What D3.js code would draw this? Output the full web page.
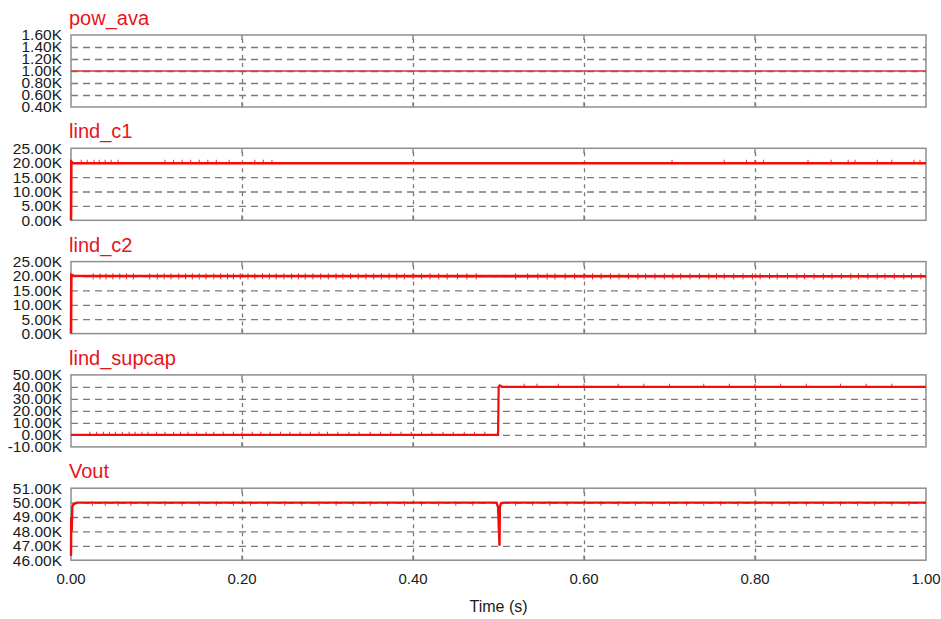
<!DOCTYPE html>
<html>
<head>
<meta charset="utf-8">
<script src="https://cdn.jsdelivr.net/npm/d3@7"></script>
<style>
  body { margin: 0; background: #fff; }
  text { font-family: "Liberation Sans", Arial, Helvetica, sans-serif; }
</style>
</head>
<body>
<div id="chart"></div>
<script>
// ---- data ----
var panelNames = ["pow_ava", "lind_c1", "lind_c2", "lind_supcap", "Vout"];

var powTicks = [400, 600, 800, 1000, 1200, 1400, 1600];
var c1Ticks = [0, 5000, 10000, 15000, 20000, 25000];
var c2Ticks = [0, 5000, 10000, 15000, 20000, 25000];
var supTicks = [-10000, 0, 10000, 20000, 30000, 40000, 50000];
var voutTicks = [46000, 47000, 48000, 49000, 50000, 51000];

var timeTicks = [0, 0.2, 0.4, 0.6, 0.8, 1.0];
var timeGrid = [0.2, 0.4, 0.6, 0.8];

// main traces [time, value]
var powData = [[0, 1000], [1, 1000]];
var c1Data = [[0, 0], [0.0004, 20300], [0.002, 19900], [0.006, 19800], [1, 19800]];
var c2Data = [[0, 0], [0.0004, 20400], [0.003, 20100], [0.02, 20000], [1, 19900]];
var supData = [[0, 0], [0.4995, 0], [0.5002, 40000], [0.5015, 41200], [0.504, 40100], [1, 40000]];
var voutData = [[0, 46300], [0.0003, 49000], [0.0008, 48000], [0.0015, 49700], [0.003, 49900],
                [0.007, 50000], [0.4975, 50000], [0.4995, 49700], [0.5012, 47000], [0.5016, 49700],
                [0.503, 49950], [0.506, 50000], [1, 50000]];

// small switching spikes seen on the traces [time, level]
var c1Spikes = [0.012, 0.019, 0.027, 0.033, 0.04, 0.047, 0.055, 0.11, 0.12, 0.13, 0.14, 0.15,
                0.16, 0.17, 0.185, 0.215, 0.225, 0.235, 0.703, 0.764, 0.79, 0.80, 0.81, 0.862,
                0.889, 0.909, 0.917, 0.943, 0.96, 0.986, 0.993].map(t => [t, 19800]);
var c2Spikes = [0.026, 0.034, 0.041, 0.049, 0.057, 0.065, 0.073, 0.092, 0.101, 0.109, 0.117,
                0.126, 0.134, 0.142, 0.15, 0.158, 0.167, 0.175, 0.183, 0.19, 0.198, 0.207, 0.215,
                0.224, 0.232, 0.24, 0.249, 0.258, 0.266, 0.274, 0.283, 0.292, 0.301, 0.31, 0.318,
                0.327, 0.336, 0.345, 0.354, 0.363, 0.372, 0.381, 0.39, 0.4, 0.41, 0.42, 0.43, 0.44,
                0.452, 0.463, 0.474, 0.52, 0.534, 0.546, 0.557, 0.566, 0.578, 0.589, 0.6, 0.61,
                0.62, 0.631, 0.641, 0.652, 0.663, 0.672, 0.683, 0.694, 0.704, 0.713, 0.724, 0.735,
                0.746, 0.755, 0.764, 0.775, 0.786, 0.797, 0.806, 0.817, 0.826, 0.838, 0.849, 0.858,
                0.869, 0.88, 0.89, 0.901, 0.912, 0.921, 0.932, 0.943, 0.952, 0.963, 0.974, 0.983,
                0.994].map(t => [t, 19950]);
var supSpikes = [[0.022, 0], [0.03, 0], [0.038, 0], [0.045, 0], [0.052, 0], [0.06, 0], [0.068, 0],
                 [0.075, 0], [0.083, 0], [0.09, 0], [0.1, 0], [0.11, 0], [0.12, 0], [0.128, 0],
                 [0.137, 0], [0.147, 0], [0.158, 0], [0.167, 0], [0.178, 0], [0.19, 0], [0.2, 0],
                 [0.212, 0], [0.222, 0], [0.233, 0], [0.245, 0], [0.256, 0], [0.268, 0], [0.28, 0],
                 [0.29, 0], [0.3, 0], [0.312, 0], [0.325, 0], [0.337, 0], [0.35, 0], [0.362, 0],
                 [0.374, 0], [0.386, 0], [0.398, 0], [0.41, 0], [0.422, 0], [0.435, 0], [0.447, 0],
                 [0.46, 0], [0.472, 0], [0.484, 0], [0.53, 40000], [0.545, 40000], [0.57, 40000],
                 [0.6, 40000], [0.64, 40000], [0.67, 40000], [0.7, 40000], [0.74, 40000],
                 [0.77, 40000], [0.8, 40000], [0.83, 40000], [0.86, 40000], [0.9, 40000],
                 [0.93, 40000], [0.96, 40000]];
var voutSpikes = [0.025, 0.04, 0.055, 0.07, 0.09, 0.11, 0.13, 0.15, 0.17, 0.19, 0.21, 0.23,
                  0.25, 0.27, 0.29, 0.31, 0.33, 0.35, 0.37, 0.39, 0.41, 0.43, 0.45, 0.47, 0.52,
                  0.54, 0.56, 0.58, 0.6, 0.62, 0.64, 0.66, 0.68, 0.7, 0.72, 0.74, 0.76, 0.78, 0.8,
                  0.82, 0.84, 0.86, 0.88, 0.9, 0.92, 0.94, 0.96, 0.98].map(t => [t, 50000]);

// spike extents in data units: [below, above]
var panels = [
  { name: panelNames[0], domain: [400, 1600], ticks: powTicks, data: powData, spikes: [], amp: [0, 0], width: 1.5, color: "#e03030" },
  { name: panelNames[1], domain: [0, 25000], ticks: c1Ticks, data: c1Data, spikes: c1Spikes, amp: [0, 900], width: 2.6, color: "#f20d0d" },
  { name: panelNames[2], domain: [0, 25000], ticks: c2Ticks, data: c2Data, spikes: c2Spikes, amp: [800, 700], width: 2.6, color: "#f20d0d" },
  { name: panelNames[3], domain: [-10000, 50000], ticks: supTicks, data: supData, spikes: supSpikes, amp: [0, 1800], width: 2.2, color: "#f20d0d" },
  { name: panelNames[4], domain: [46000, 51000], ticks: voutTicks, data: voutData, spikes: voutSpikes, amp: [150, 0], width: 2.4, color: "#f20d0d" }
];

// ---- layout ----
var svgWidth = 941, svgHeight = 619;
var left = 71, right = 926;
var firstTop = 35, step = 113.3, panelH = 72;

var svg = d3.select("#chart").append("svg")
  .attr("width", svgWidth)
  .attr("height", svgHeight);

var x = d3.scaleLinear().domain([0, 1]).range([left, right]);

panels.forEach(function (p, i) {
  var top = firstTop + i * step;
  var bottom = top + panelH;
  var y = d3.scaleLinear().domain(p.domain).range([bottom, top]);
  var g = svg.append("g");

  // horizontal dashed grid
  g.append("g")
    .attr("transform", `translate(${left},0)`)
    .call(d3.axisLeft(y).tickValues(p.ticks.slice(1, -1)).tickSize(-(right - left)).tickFormat(""))
    .call(a => a.select(".domain").remove())
    .selectAll("line")
    .attr("stroke", "#7a7a7a")
    .attr("stroke-width", 1.3)
    .attr("stroke-dasharray", "7,5");

  // vertical dashed grid
  g.append("g")
    .attr("transform", `translate(0,${bottom})`)
    .call(d3.axisBottom(x).tickValues(timeGrid).tickSize(-panelH).tickFormat(""))
    .call(a => a.select(".domain").remove())
    .selectAll("line")
    .attr("stroke", "#7a7a7a")
    .attr("stroke-width", 1.3)
    .attr("stroke-dasharray", "4,4");

  // small solid ticks at the top and bottom border
  g.selectAll(".tk")
    .data(timeGrid)
    .enter()
    .append("path")
    .attr("d", d => `M${x(d)},${top}v5M${x(d)},${bottom}v-5`)
    .attr("stroke", "#7a7a7a")
    .attr("stroke-width", 1.3);

  // frame
  g.append("rect")
    .attr("x", left)
    .attr("y", top)
    .attr("width", right - left)
    .attr("height", panelH)
    .attr("fill", "none")
    .attr("stroke", "#8e8e8e")
    .attr("stroke-width", 1.5);

  // y tick labels
  g.append("g")
    .attr("transform", `translate(62,0)`)
    .call(d3.axisLeft(y).tickValues(p.ticks).tickSize(0).tickPadding(0)
      .tickFormat(d => (d / 1000).toFixed(2) + "K"))
    .call(a => a.select(".domain").remove())
    .selectAll("text")
    .attr("font-family", "'Liberation Sans', Arial, sans-serif")
    .attr("font-size", 15.5)
    .attr("fill", "#1a1a1a");

  // trace
  var line = d3.line().x(d => x(d[0])).y(d => y(d[1]));
  g.append("path")
    .datum(p.data)
    .attr("d", line)
    .attr("fill", "none")
    .attr("stroke", p.color)
    .attr("stroke-width", p.width);

  // switching spikes
  g.selectAll(".sp")
    .data(p.spikes)
    .enter()
    .append("line")
    .attr("x1", d => x(d[0]))
    .attr("x2", d => x(d[0]))
    .attr("y1", d => y(d[1] - p.amp[0]) + 1)
    .attr("y2", d => y(d[1] + p.amp[1]) - 1)
    .attr("stroke", p.color)
    .attr("stroke-opacity", 0.8)
    .attr("stroke-width", 1.1);

  // title
  g.append("text")
    .attr("x", 69)
    .attr("y", top - 10)
    .attr("font-size", 20)
    .attr("fill", "#e8141b")
    .text(p.name);

  // x axis labels under the last panel
  if (i === panels.length - 1) {
    g.selectAll(".xl")
      .data(timeTicks)
      .enter()
      .append("text")
      .attr("x", d => x(d))
      .attr("y", 584)
      .attr("text-anchor", "middle")
      .attr("font-size", 15)
      .attr("fill", "#1a1a1a")
      .text(d => d.toFixed(2));

    g.append("text")
      .attr("x", (left + right) / 2)
      .attr("y", 612)
      .attr("text-anchor", "middle")
      .attr("font-size", 16)
      .attr("fill", "#1a1a1a")
      .text("Time (s)");
  }
});
</script>
</body>
</html>
